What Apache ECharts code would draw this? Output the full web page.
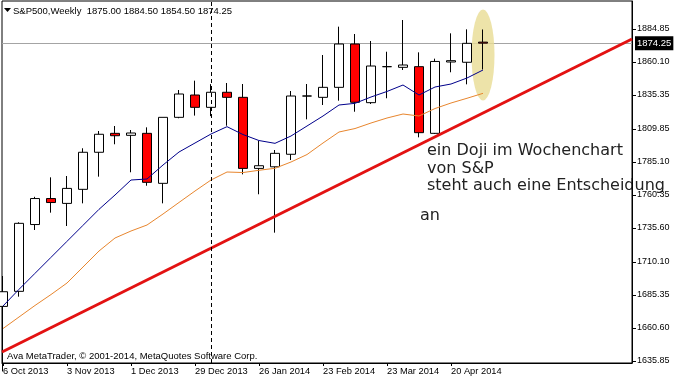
<!DOCTYPE html>
<html>
<head>
<meta charset="utf-8">
<script src="https://cdn.jsdelivr.net/npm/echarts@6/dist/echarts.min.js"></script>
<style>
html,body{margin:0;padding:0;background:#fff;}
#c{width:675px;height:381px;}
</style>
</head>
<body>
<div id="c"></div>
<script>
// ---------- data ----------
const symbolName = 'S&P500';
const timeframe = 'Weekly';
const weekIndex = [0,1,2,3,4,5,6,7,8,9,10,11,12,13,14,15,16,17,18,19,20,21,22,23,24,25,26,27,28,29,30];
const opens  = [1676.8,1688.1,1738.2,1757.7,1754.05,1764.6,1792.4,1806.6,1805.1,1806.6,1769.1,1818.6,1835.35,1826.1,1837.4,1833.6,1780.3,1781.5,1790.9,1834.6,1833.6,1841.1,1873.6,1829.6,1856.6,1856.1,1856.6,1806.6,1860.1,1859.9,1875.00];
const closes = [1687.8,1739.1,1757.7,1754.7,1765.3,1792.4,1805.9,1804.8,1806.85,1769.85,1818.6,1836.1,1826.1,1837.4,1833.6,1780.3,1782.3,1791.6,1834.6,1834.6,1841.1,1873.6,1829.9,1857.1,1856.6,1857.85,1807.1,1860.5,1861.1,1874.1,1874.25];
const lows   = [1628.0,1684.1,1734.1,1747.1,1737.1,1754.1,1774.1,1798.4,1777.4,1767.3,1754.1,1817.9,1819.9,1819.5,1812.3,1775.85,1760.9,1732.1,1786.6,1817.1,1827.85,1831.1,1822.8,1828.6,1832.9,1854.1,1803.6,1806.1,1852.4,1843.35,1854.50];
const highs  = [1699.6,1739.9,1759.0,1773.6,1774.6,1795.4,1808.35,1812.1,1809.1,1811.1,1818.6,1839.1,1846.1,1843.5,1844.35,1843.6,1800.85,1794.1,1838.35,1843.6,1865.35,1886.6,1881.1,1875.85,1867.8,1891.6,1867.35,1862.6,1881.6,1884.6,1884.50];
const maFast = [1677.1,1689.6,1701.6,1713.6,1725.6,1737.6,1749.6,1760.35,1771.6,1772.35,1782.85,1792.6,1799.35,1806.1,1811.6,1805.7,1801.2,1799.1,1804.6,1812.1,1819.6,1827.85,1829.1,1833.85,1838.0,1842.85,1835.35,1841.35,1843.6,1848.1,1854.1];
const maSlow = [1660.2,1668.85,1677.5,1685.7,1694.35,1706.35,1718.35,1728.1,1733.35,1737.85,1746.1,1754.75,1763.35,1771.6,1777.6,1777.2,1778.9,1780.4,1785.1,1790.7,1799.35,1807.6,1810.2,1814.35,1818.1,1821.1,1819.6,1825.2,1829.35,1832.9,1836.6];
const dateTickWeeks  = [0,4,8,12,16,20,24,28];
const dateTickLabels = ['6 Oct 2013','3 Nov 2013','1 Dec 2013','29 Dec 2013','26 Jan 2014','23 Feb 2014','23 Mar 2014','20 Apr 2014'];
const priceTicks = [1635.85,1660.60,1685.35,1710.10,1735.60,1760.35,1785.10,1809.85,1835.35,1860.10,1884.85];
const trendWeeks  = [-0.0625, 39.3125];
const trendPrices = [1642.6, 1877.35];
const separatorWeek = 13;
const highlightWeek = 30;
const highlightPrice = 1865.35;
const annotationLines = ['ein Doji im Wochenchart','von S&P','steht auch eine Entscheidung'];
const annotationTail = 'an';
const copyrightText = 'Ava MetaTrader, \u00a9 2001-2014, MetaQuotes Software Corp.';

// ---------- chart ----------
const smallFont = "'Liberation Sans',Arial,sans-serif";
const bigFont = "'DejaVu Sans',Verdana,sans-serif";
const last = weekIndex.length - 1;
const header = symbolName + ',' + timeframe + '  ' + opens[last].toFixed(2) + ' ' + highs[last].toFixed(2) + ' ' + lows[last].toFixed(2) + ' ' + closes[last].toFixed(2);
const candles = weekIndex.map((w, i) => [w, opens[i], closes[i], lows[i], highs[i]]);

const chart = echarts.init(document.getElementById('c'), null, {renderer: 'canvas'});
chart.setOption({
  animation: false,
  backgroundColor: '#fff',
  grid: {left: 2, right: 43, top: 1, bottom: 18, show: true, borderColor: '#000', borderWidth: 1, backgroundColor: '#fff'},
  xAxis: {
    type: 'value', min: trendWeeks[0], max: trendWeeks[1], position: 'bottom',
    axisLine: {show: true, onZero: false, lineStyle: {color: '#000', width: 1}},
    axisTick: {show: true, length: 3, customValues: dateTickWeeks, lineStyle: {color: '#000'}},
    axisLabel: {customValues: dateTickWeeks, formatter: v => dateTickLabels[dateTickWeeks.indexOf(v)] || '',
      align: 'left', margin: 4, color: '#000', fontFamily: smallFont, fontSize: 9.3},
    splitLine: {show: false}
  },
  yAxis: {
    type: 'value', position: 'right', min: 1634.35, max: 1905.85,
    axisLine: {show: true, onZero: false, lineStyle: {color: '#000', width: 1}},
    axisTick: {show: true, length: 4, customValues: priceTicks, lineStyle: {color: '#000'}},
    axisLabel: {customValues: priceTicks, formatter: v => v.toFixed(2), margin: 5,
      color: '#000', fontFamily: smallFont, fontSize: 9},
    splitLine: {show: false}
  },
  series: [
    {
      type: 'line', data: [], z: 1, silent: true,
      markLine: {
        silent: true, symbol: ['none', 'none'], z: 1, animation: false,
        lineStyle: {color: '#a4a4a4', width: 1, type: 'solid'},
        label: {show: true, position: 'end', distance: 3, formatter: closes[last].toFixed(2),
          backgroundColor: '#000', color: '#fff', padding: [2, 2, 2, 2],
          fontFamily: smallFont, fontSize: 9.5},
        data: [{yAxis: closes[last]}]
      }
    },
    {
      type: 'scatter', z: 1.5, silent: true,
      data: [[highlightWeek, highlightPrice]],
      symbol: 'circle', symbolSize: [23, 91],
      itemStyle: {color: '#e8dc93'}
    },
    {
      type: 'candlestick', z: 3, silent: true, barWidth: 10, clip: true,
      data: candles,
      itemStyle: {color: '#ffffff', color0: '#ff0000', borderColor: '#000', borderColor0: '#000', borderColorDoji: '#000', borderWidth: 1}
    },
    {
      type: 'line', z: 4, silent: true, symbol: 'none',
      data: weekIndex.map((w, i) => [w, maFast[i]]),
      lineStyle: {color: '#00008b', width: 1}
    },
    {
      type: 'line', z: 4, silent: true, symbol: 'none',
      data: weekIndex.map((w, i) => [w, maSlow[i]]),
      lineStyle: {color: '#e8862e', width: 1}
    },
    {
      type: 'line', z: 5, silent: true, symbol: 'none',
      data: trendWeeks.map((w, i) => [w, trendPrices[i]]),
      lineStyle: {color: '#e31212', width: 3}
    },
    {
      type: 'line', data: [], z: 6, silent: true,
      markLine: {
        silent: true, symbol: ['none', 'none'], z: 6, animation: false,
        lineStyle: {color: '#000', width: 1, type: [4, 3]},
        label: {show: false},
        data: [{xAxis: separatorWeek}]
      }
    }
  ],
  graphic: [
    {type: 'polygon', shape: {points: [[4, 8], [11, 8], [7.5, 12]]}, style: {fill: '#000'}, silent: true},
    {type: 'text', x: 13, y: 11, silent: true, style: {text: header, fill: '#000', font: '9.5px ' + smallFont, verticalAlign: 'middle'}},
    {type: 'text', x: 7, y: 356, silent: true, style: {text: copyrightText, fill: '#000', font: '9.5px ' + smallFont, verticalAlign: 'middle'}},
    {type: 'text', x: 427, y: 151, silent: true, style: {text: annotationLines[0], fill: '#222', font: '16px ' + bigFont, verticalAlign: 'middle'}},
    {type: 'text', x: 427, y: 169, silent: true, style: {text: annotationLines[1], fill: '#222', font: '16px ' + bigFont, verticalAlign: 'middle'}},
    {type: 'text', x: 427, y: 186, silent: true, style: {text: annotationLines[2], fill: '#222', font: '16px ' + bigFont, verticalAlign: 'middle'}},
    {type: 'text', x: 420, y: 216, silent: true, style: {text: annotationTail, fill: '#222', font: '16px ' + bigFont, verticalAlign: 'middle'}}
  ]
});
</script>
</body>
</html>
